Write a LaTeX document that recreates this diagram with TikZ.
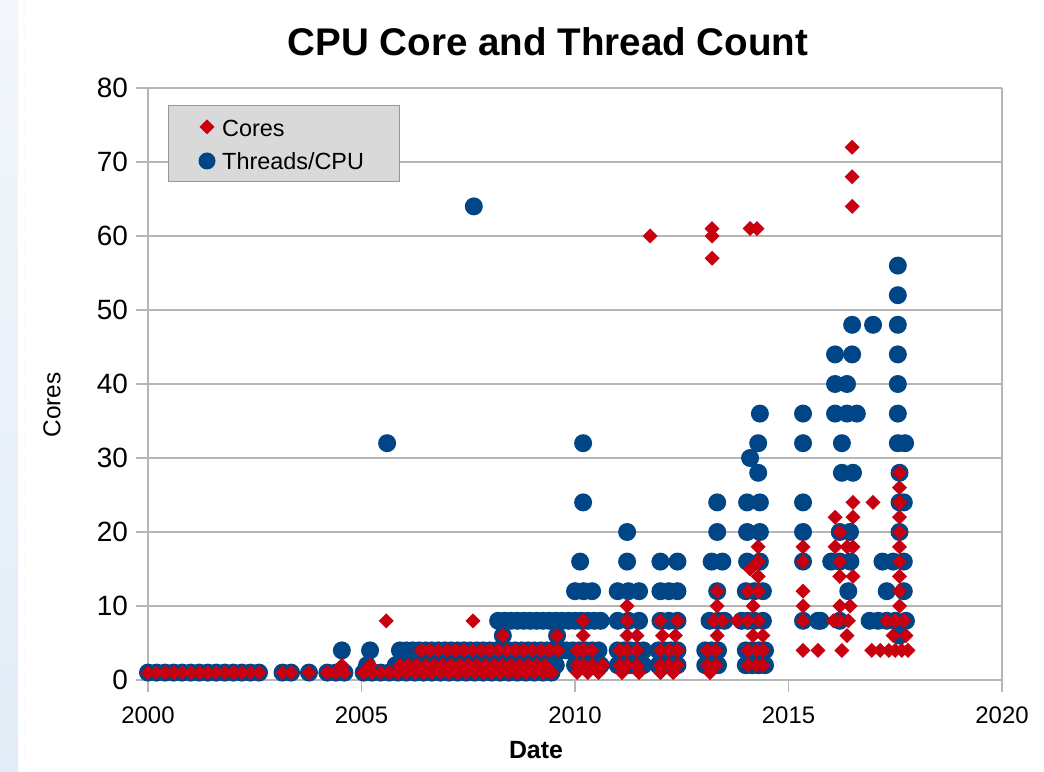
\documentclass[tikz,border=0pt]{standalone}
\usepackage{fontspec}
\setmainfont{Liberation Sans}

\definecolor{threadblue}{RGB}{0,69,134}
\definecolor{corered}{RGB}{200,0,16}
\definecolor{gridgray}{RGB}{182,182,182}
\definecolor{legendfill}{RGB}{217,217,217}
\definecolor{legendedge}{RGB}{150,150,150}
\definecolor{stripblue}{RGB}{226,236,246}
\definecolor{stripblue2}{RGB}{243,247,251}

% one marker per data point, sizes in absolute units
\newcommand\threadpt[2]{\fill[threadblue] (#1,#2) circle[radius=9bp];}
\newcommand\corept[2]{\fill[corered] (#1,#2) +(0bp,7.5bp) -- +(7.5bp,0bp) -- +(0bp,-7.5bp) -- +(-7.5bp,0bp) -- cycle;}

\tikzset{
  gridline/.style={draw=gridgray, line width=1.5bp},
  ticklabel/.style={inner sep=0pt, font=\fontsize{28}{30}\selectfont},
  xticklabel/.style={inner sep=0pt, font=\fontsize{24}{26}\selectfont},
  axislabel/.style={inner sep=0pt, font=\fontsize{24.5}{26}\selectfont},
  legendtext/.style={inner sep=0pt, anchor=base west, font=\fontsize{23.5}{25}\selectfont},
}

\begin{document}
\begin{tikzpicture}[x=1bp,y=1bp]
\useasboundingbox (0,0) rectangle (1044,772);
\fill[white] (0,0) rectangle (1044,772);
\shade[top color=stripblue2, bottom color=stripblue] (0,0) rectangle (18,772);
\draw[stripblue!60, line width=0.8bp, dash pattern=on 1bp off 2bp] (24,0) -- (24,772);

% title
\node[inner sep=0pt, font=\fontsize{38.7}{40}\selectfont\bfseries] (title) at (548,730.5) {CPU Core and Thread Count};

% grid and frame
\foreach \v in {0,10,...,80} {\draw[gridline] (136,{92+7.4*\v}) -- (1002,{92+7.4*\v});}
\draw[gridline] (148,80) -- (148,684);
\draw[gridline] (1002,80) -- (1002,684);
\foreach \i in {1,2,3} {\draw[gridline] ({148+213.5*\i},80) -- ({148+213.5*\i},92);}

% tick labels
\foreach \v in {0,10,...,80} {\node[ticklabel, anchor=east] (ytick\v) at (128,{92+7.4*\v}) {\v};}
\foreach \i/\yr in {0/2000,1/2005,2/2010,3/2015,4/2020} {\node[xticklabel] (xtick\i) at ({148+213.5*\i},57) {\yr};}

% axis titles
\node[axislabel, rotate=90] (ylabel) at (52,367) {Cores};
\node[axislabel, font=\fontsize{25}{27}\selectfont\bfseries] (xlabel) at (536,22) {Date};

% data: years since 2000 against count
\begin{scope}[shift={(148bp,92bp)}, x=42.7bp, y=7.4bp]
  % threads per CPU
  \foreach \t in {0,0.2,...,2.61} {\threadpt{\t}{1}}
  \foreach \t in {3.15,3.35,3.77,4.2,4.4,4.6} {\threadpt{\t}{1}}
  \foreach \t in {5.05,5.25,...,9.6} {\threadpt{\t}{1}}
  \foreach \t in {5.8,5.95,...,9.6} {\threadpt{\t}{2}}
  \foreach \t in {10.0,10.15,...,10.7} {\threadpt{\t}{2}}
  \foreach \t in {5.9,6.05,...,10.7} {\threadpt{\t}{4}}
  \foreach \t in {8.2,8.35,...,10.66} {\threadpt{\t}{8}}
  \foreach \t in {11.0,11.15,...,11.61,11.95,12.1,...,12.51,13.05,13.2,...,13.46,14.0,14.15,...,14.46}
    {\threadpt{\t}{4}\threadpt{\t}{2}}
  \foreach \t/\vals in {
      4.54/{4}, 5.2/{4}, 5.13/{2}, 5.6/{32}, 5.83/{2}, 7.63/{64}, 8.31/{6}, 9.58/{6},
      10.19/{32,24}, 10.12/{16}, 10.0/{12}, 10.2/{12}, 10.4/{12},
      11.22/{20,16}, 11.0/{12,8}, 11.25/{12,8}, 11.5/{12,8},
      12.0/{16,12,8}, 12.2/{12,8}, 12.4/{16,12,8},
      13.33/{24,20,12}, 13.2/{16}, 13.45/{16}, 13.15/{8}, 13.35/{8}, 13.5/{8},
      14.33/{36,24,20,16}, 14.29/{32,28}, 14.1/{30}, 14.03/{24,20,16}, 14.0/{12},
      14.2/{12,8}, 14.4/{12,8}, 13.9/{8}, 14.05/{8},
      15.34/{36,32,24,20,16,8}, 15.69/{8},
      16.09/{44,40,36}, 16.49/{48,44}, 16.37/{40,36}, 16.6/{36}, 16.25/{32,28},
      16.51/{28}, 16.2/{20,16,8}, 16.44/{20}, 16.0/{16}, 16.45/{16}, 16.4/{12}, 15.75/{8},
      16.98/{48}, 16.9/{8}, 17.1/{8},
      17.56/{56,52,48,44,40,36,32}, 17.73/{32}, 17.6/{28,24,20,6}, 17.7/{24,16,12},
      17.2/{16}, 17.45/{16}, 17.3/{12,8}, 17.5/{8}, 17.75/{8}}
    {\foreach \v in \vals {\threadpt{\t}{\v}}}

  % cores
  \foreach \t in {0,0.2,...,2.61} {\corept{\t}{1}}
  \foreach \t in {3.15,3.35,3.77,4.2,4.4,4.6} {\corept{\t}{1}}
  \foreach \t in {5.05,5.25,...,9.6} {\corept{\t}{1}}
  \foreach \t in {10.05,10.3,10.55,11.1,11.5,12.0,12.3,13.16} {\corept{\t}{1}}
  \foreach \t in {5.9,6.1,...,9.5} {\corept{\t}{2}}
  \foreach \t in {6.4,6.6,...,9.8} {\corept{\t}{4}}
  \foreach \t in {10.05,10.2,10.4,11.05,11.22,11.45,12.0,12.2,12.4,13.1,13.3,14.05,14.25,14.4}
    {\corept{\t}{4}\corept{\t}{2}}
  \foreach \t/\vals in {
      4.54/{2}, 5.2/{2}, 10.65/{2},
      15.34/{4}, 15.69/{4}, 16.25/{4}, 16.95/{4}, 17.15/{4}, 17.35/{4}, 17.5/{4}, 17.65/{4}, 17.8/{4},
      8.31/{6}, 9.58/{6}, 10.19/{6,8}, 11.22/{6,8,10}, 11.45/{6}, 12.05/{6}, 12.35/{6},
      13.33/{6,10,12}, 14.17/{6,10}, 14.4/{6}, 16.37/{6,18}, 17.45/{6}, 17.75/{6},
      5.58/{8}, 7.61/{8}, 12.0/{8}, 12.4/{8}, 13.25/{8}, 13.45/{8}, 13.8/{8}, 14.05/{8,12},
      14.3/{8,12}, 15.34/{8,10,12,16,18}, 16.05/{8}, 16.2/{8,10,14,16,20}, 16.4/{8},
      17.3/{8}, 17.5/{8}, 17.7/{8},
      16.44/{10}, 17.6/{10,12,14,16,18,20,22,24,26,28},
      14.29/{14,16,18}, 14.1/{15}, 16.51/{14,18,22,24}, 16.09/{18,22}, 16.98/{24},
      13.21/{57,60,61}, 11.76/{60}, 14.1/{61}, 14.26/{61}, 16.49/{64,68,72}}
    {\foreach \v in \vals {\corept{\t}{\v}}}
\end{scope}

% legend
\node[draw=legendedge, line width=1bp, fill=legendfill, minimum width=231bp, minimum height=76bp,
      anchor=north west, inner sep=0pt] (legend) at (168,667) {};
\fill[corered] (207,645) +(0bp,7.5bp) -- +(7.5bp,0bp) -- +(0bp,-7.5bp) -- +(-7.5bp,0bp) -- cycle;
\fill[threadblue] (207,611) circle[radius=8.5bp];
\node[legendtext] (legcores) at (222,635.5) {Cores};
\node[legendtext] (legthreads) at (222,602.5) {Threads/CPU};
\end{tikzpicture}
\end{document}
